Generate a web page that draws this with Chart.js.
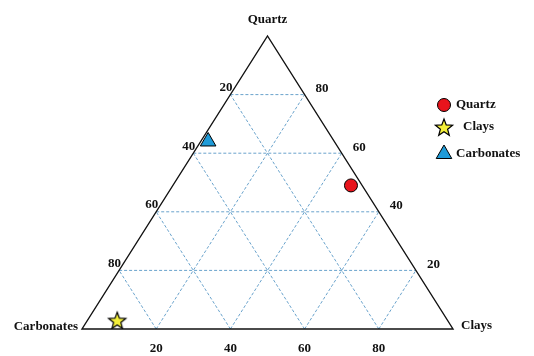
<!DOCTYPE html>
<html>
<head>
<meta charset="utf-8">
<script src="https://cdn.jsdelivr.net/npm/chart.js@4/dist/chart.umd.min.js"></script>
<style>
    html, body { margin: 0; padding: 0; background: #fff; }
</style>
</head>
<body>
<canvas id="ternary" width="534" height="356"></canvas>
<script>
// --- Data (percentages) ---
const sampleNames = ['Quartz', 'Clays', 'Carbonates'];
const quartzPct = [49, 3, 64];
const claysPct = [48, 8, 2];
const carbonatesPct = [3, 89, 34];
const gridTicks = [20, 40, 60, 80];
const vertexLabels = { top: 'Quartz', right: 'Clays', left: 'Carbonates' };

const sampleFill = ['#e8141c', '#f4f03a', '#1f9bd8'];

// ternary -> cartesian (x: 0..100 along base, y: quartz 0..100)
const toXY = (q, cl) => ({ x: cl + q / 2, y: q });

// --- five-pointed star marker ---
const makeStar = (size, outer, inner, fill) => {
    const c = document.createElement('canvas');
    c.width = size; c.height = size;
    const g = c.getContext('2d');
    g.beginPath();
    for (let i = 0; i < 10; i++) {
        const r = i % 2 === 0 ? outer : inner;
        const a = -Math.PI / 2 + i * Math.PI / 5;
        const px = size / 2 + r * Math.cos(a);
        const py = size / 2 + 1 + r * Math.sin(a);
        if (i === 0) g.moveTo(px, py); else g.lineTo(px, py);
    }
    g.closePath();
    g.fillStyle = fill;
    g.fill();
    g.lineWidth = 1.2;
    g.strokeStyle = '#000';
    g.stroke();
    return c;
};
const starImg = makeStar(22, 9, 3.8, sampleFill[1]);

const pointStyles = ['circle', starImg, 'triangle'];
const pointRadii = [6.5, 9, 9];

const datasets = sampleNames.map((name, i) => ({
    label: name,
    data: [toXY(quartzPct[i], claysPct[i])],
    backgroundColor: sampleFill[i],
    borderColor: '#000',
    borderWidth: 1,
    pointStyle: pointStyles[i],
    pointRadius: pointRadii[i],
    pointHoverRadius: pointRadii[i]
}));

const labelFont = 'bold 13px "Liberation Serif", "Times New Roman", serif';

// --- grid, frame and labels ---
const ternaryPlugin = {
    id: 'ternary',
    beforeDatasetsDraw(chart) {
        const { ctx, scales: { x, y } } = chart;
        const P = (q, cl) => {
            const p = toXY(q, cl);
            return [x.getPixelForValue(p.x), y.getPixelForValue(p.y)];
        };
        const line = (a, b) => {
            ctx.beginPath();
            ctx.moveTo(a[0], a[1]);
            ctx.lineTo(b[0], b[1]);
            ctx.stroke();
        };

        ctx.save();
        ctx.strokeStyle = '#6aa3cc';
        ctx.lineWidth = 1;
        ctx.setLineDash([3, 2]);
        gridTicks.forEach(t => {
            line(P(t, 0), P(t, 100 - t));      // constant quartz
            line(P(0, t), P(100 - t, t));      // constant clays
            line(P(0, 100 - t), P(100 - t, 0)); // constant carbonates
        });
        ctx.setLineDash([]);
        ctx.strokeStyle = '#111';
        ctx.lineWidth = 1.4;
        ctx.beginPath();
        const a = P(0, 0), b = P(0, 100), c = P(100, 0);
        ctx.moveTo(a[0], a[1]);
        ctx.lineTo(b[0], b[1]);
        ctx.lineTo(c[0], c[1]);
        ctx.closePath();
        ctx.stroke();
        ctx.restore();
    },
    afterDraw(chart) {
        const { ctx, scales: { x, y } } = chart;
        const P = (q, cl) => {
            const p = toXY(q, cl);
            return [x.getPixelForValue(p.x), y.getPixelForValue(p.y)];
        };
        ctx.save();
        ctx.fillStyle = '#111';
        ctx.font = labelFont;

        // vertex names
        const top = P(100, 0), left = P(0, 0), right = P(0, 100);
        ctx.textAlign = 'center';
        ctx.textBaseline = 'middle';
        ctx.fillText(vertexLabels.top, top[0], top[1] - 16);
        ctx.textAlign = 'right';
        ctx.fillText(vertexLabels.left, left[0] - 4, left[1] - 2);
        ctx.textAlign = 'left';
        ctx.fillText(vertexLabels.right, right[0] + 8, right[1] - 3);

        gridTicks.forEach(t => {
            // bottom: clays
            const bp = P(0, t);
            ctx.textAlign = 'center';
            ctx.fillText(String(t), bp[0], bp[1] + 20);
            // left: carbonates (0 at apex)
            const lp = P(100 - t, 0);
            ctx.textAlign = 'right';
            ctx.fillText(String(t), lp[0] + 2, lp[1] - 7);
            // right: quartz
            const rp = P(t, 100 - t);
            ctx.textAlign = 'left';
            ctx.fillText(String(t), rp[0] + 11, rp[1] - 6);
        });

        // legend
        const lx = 444, ly = [105, 127, 154], tx = [456, 463, 456];
        sampleNames.forEach((name, i) => {
            ctx.fillStyle = sampleFill[i];
            ctx.strokeStyle = '#000';
            ctx.lineWidth = 1;
            Chart.helpers.drawPoint(ctx, {
                pointStyle: pointStyles[i],
                radius: pointRadii[i],
                rotation: 0,
                borderWidth: 1
            }, lx, ly[i]);
            ctx.fillStyle = '#111';
            ctx.textAlign = 'left';
            ctx.textBaseline = 'middle';
            ctx.fillText(name, tx[i], ly[i]);
        });
        ctx.restore();
    }
};

new Chart(document.getElementById('ternary'), {
    type: 'scatter',
    data: { datasets },
    options: {
        responsive: false,
        animation: false,
        layout: { padding: { left: 82, right: 81, top: 36, bottom: 27 } },
        scales: {
            x: { type: 'linear', min: 0, max: 100, display: false },
            y: { type: 'linear', min: 0, max: 100, display: false }
        },
        plugins: {
            legend: { display: false },
            tooltip: { enabled: false }
        }
    },
    plugins: [ternaryPlugin]
});
</script>
</body>
</html>
